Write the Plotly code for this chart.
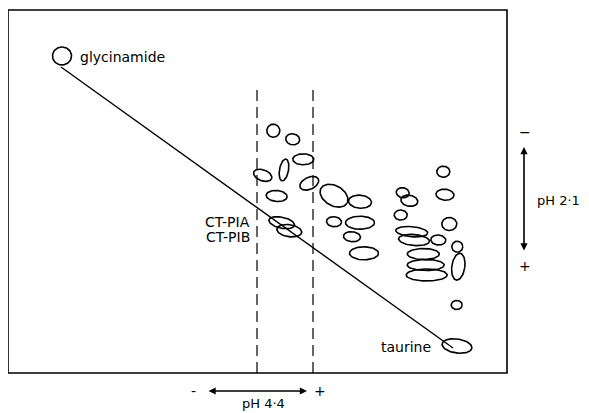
import numpy as np
import plotly.graph_objects as go

# Spot centres (x = pH 4.4 direction, y = pH 2.1 direction), semi-axes and tilt
spot_x = [273.3, 292.7, 303.3, 284.0, 262.7, 309.3, 276.7, 334.0, 360.0, 402.7,
          409.3, 443.3, 445.0, 400.7, 449.3, 281.7, 289.3, 334.0, 360.0, 352.0,
          364.0, 411.7, 414.0, 438.3, 423.3, 425.7, 426.7, 457.3, 458.3, 456.7,
          62.0, 457.0]
spot_y = [130.7, 139.3, 159.3, 170.0, 175.3, 183.3, 196.0, 195.7, 201.7, 192.7,
          200.7, 171.7, 194.7, 215.0, 224.0, 222.7, 230.7, 221.7, 222.7, 236.7,
          253.3, 231.7, 240.0, 240.0, 254.0, 265.0, 275.0, 246.7, 266.7, 305.0,
          56.0, 346.0]
spot_a = [6.5, 7.0, 10.5, 4.5, 9.5, 10.0, 10.5, 15.0, 11.5, 6.5,
          8.5, 6.5, 9.0, 6.5, 7.5, 13.0, 12.5, 7.5, 14.5, 8.5,
          14.5, 16.0, 15.5, 7.5, 16.0, 18.5, 20.5, 5.5, 6.5, 5.5,
          9.5, 15.0]
spot_b = [6.5, 5.5, 5.5, 11.0, 5.5, 6.0, 5.5, 10.0, 6.5, 5.0,
          5.5, 5.5, 5.5, 5.0, 6.5, 5.5, 6.0, 5.0, 6.5, 5.0,
          6.5, 5.0, 5.5, 5.0, 5.5, 5.5, 6.0, 5.5, 13.5, 4.5,
          9.0, 7.0]
spot_angle = [0, 10, 0, 10, 20, -25, 5, 30, 5, 10,
              10, 0, 5, 0, 0, 12, 8, 5, 0, 5,
              0, 5, 5, 5, 0, 0, 0, 0, 8, 0,
              0, 8]

# Diagonal line from glycinamide to taurine
diag_x = [61, 453]
diag_y = [67, 348]

# Dashed vertical guides
dash_x = [257, 313]
dash_top, dash_bottom = 90, 373

# Frame of the map
frame_x = [8, 507, 507, 8, 8]
frame_y = [10, 10, 373, 373, 10]

labels = ["glycinamide", "taurine", "CT-PIA", "CT-PIB"]

fig = go.Figure()
fig.add_trace(go.Scatter(x=frame_x, y=frame_y, mode="lines",
                         line=dict(color="black", width=1.6), showlegend=False))
t = np.linspace(0, 2 * np.pi, 80)
for cx, cy, a, b, ang in zip(spot_x, spot_y, spot_a, spot_b, spot_angle):
    th = np.deg2rad(ang)
    xs = cx + a * np.cos(th) * np.cos(t) - b * np.sin(th) * np.sin(t)
    ys = cy + a * np.sin(th) * np.cos(t) + b * np.cos(th) * np.sin(t)
    fig.add_trace(go.Scatter(x=xs, y=ys, mode="lines",
                             line=dict(color="black", width=1.6),
                             hoverinfo="skip", showlegend=False))

fig.add_trace(go.Scatter(x=diag_x, y=diag_y, mode="lines",
                         line=dict(color="black", width=1.4), showlegend=False))
for dx in dash_x:
    fig.add_trace(go.Scatter(x=[dx, dx], y=[dash_top, dash_bottom], mode="lines",
                             line=dict(color="black", width=1.2, dash="11px,6px"),
                             showlegend=False))

fnt = dict(family="DejaVu Sans", size=14, color="black")
fnt_small = dict(family="DejaVu Sans", size=13, color="black")
ann = [
    dict(x=78, y=57, text=labels[0], xanchor="left", font=fnt),
    dict(x=433, y=347, text=labels[1], xanchor="right", font=fnt),
    dict(x=252, y=222, text=labels[2], xanchor="right", font=fnt),
    dict(x=252, y=237, text=labels[3], xanchor="right", font=fnt),
    dict(x=535, y=200, text="pH 2·1", xanchor="left", font=fnt_small),
    dict(x=263, y=403, text="pH 4·4", xanchor="center", font=fnt_small),
    dict(x=525, y=132, text="−", xanchor="center", font=fnt),
    dict(x=525, y=266, text="+", xanchor="center", font=fnt),
    dict(x=193, y=391, text="-", xanchor="center", font=fnt),
    dict(x=320, y=391, text="+", xanchor="center", font=fnt),
]
for a_ in ann:
    fig.add_annotation(xref="x", yref="y", showarrow=False,
                       yanchor="middle", **a_)

# double-headed arrows
fig.add_annotation(xref="x", yref="y", x=524, y=147, ax=524, ay=252,
                   axref="x", ayref="y", showarrow=True, arrowhead=2,
                   arrowside="end+start", arrowwidth=1.6, arrowsize=0.9,
                   arrowcolor="black", text="")
fig.add_annotation(xref="x", yref="y", x=307, y=391, ax=207, ay=391,
                   axref="x", ayref="y", showarrow=True, arrowhead=2,
                   arrowside="end+start", arrowwidth=1.6, arrowsize=0.9,
                   arrowcolor="black", text="")

fig.update_xaxes(range=[8, 589], visible=False)
fig.update_yaxes(range=[413, 8], visible=False)
fig.update_layout(width=581, height=405, margin=dict(l=0, r=0, t=0, b=0),
                  plot_bgcolor="white", paper_bgcolor="white",
                  showlegend=False)
fig.write_html("out.html")
